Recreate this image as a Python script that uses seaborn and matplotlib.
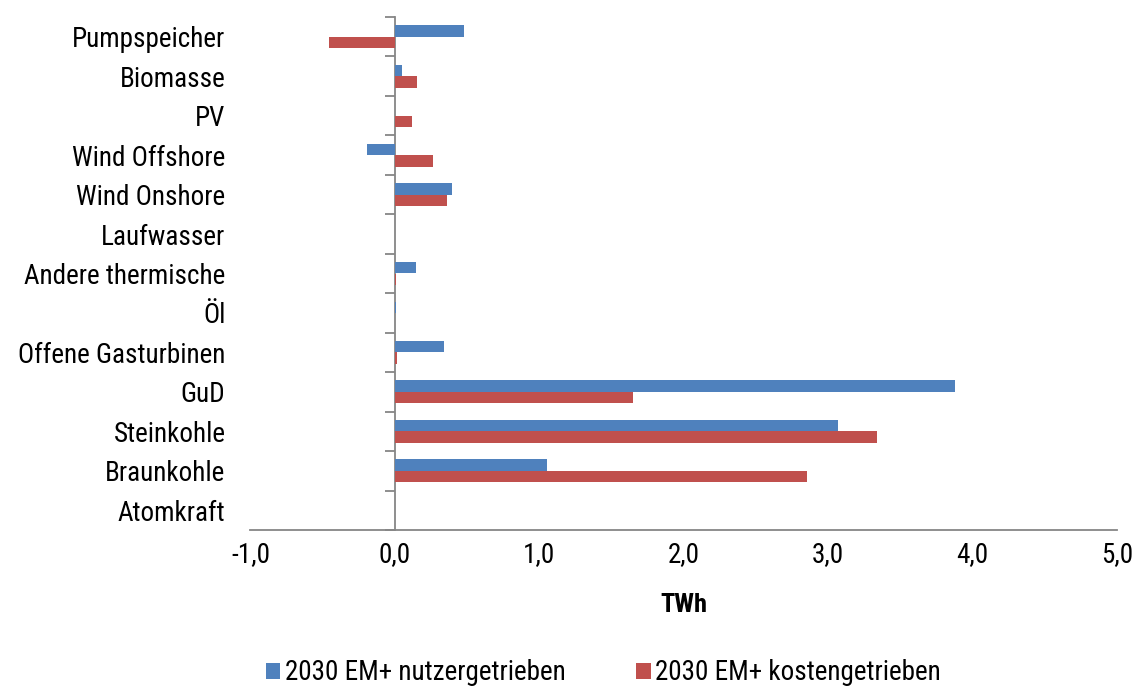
import matplotlib
matplotlib.use("Agg")
import matplotlib.pyplot as plt
import matplotlib.font_manager as fm
import numpy as np
import pandas as pd
import seaborn as sns

# Energy sources (top to bottom) and change in generation in TWh
categories = [
    "Pumpspeicher", "Biomasse", "PV", "Wind Offshore", "Wind Onshore",
    "Laufwasser", "Andere thermische", "Öl", "Offene Gasturbinen",
    "GuD", "Steinkohle", "Braunkohle", "Atomkraft",
]
nutzer = [0.48, 0.046, 0.0, -0.196, 0.395, 0.0, 0.145, 0.005, 0.34, 3.88, 3.07, 1.05, 0.0]
kosten = [-0.457, 0.15, 0.115, 0.263, 0.36, 0.0, 0.01, 0.0, 0.015, 1.65, 3.34, 2.85, 0.0]
series_names = ["2030 EM+ nutzergetrieben", "2030 EM+ kostengetrieben"]
x_ticks = [-1.0, 0.0, 1.0, 2.0, 3.0, 4.0, 5.0]

df = pd.DataFrame({
    "Kategorie": categories * 2,
    "TWh": nutzer + kosten,
    "Szenario": [series_names[0]] * len(categories) + [series_names[1]] * len(categories),
})

sns.set_theme(style="white")

# Prefer a narrow sans face if one is installed
def pick_narrow():
    narrow_names = ["Roboto Condensed", "Liberation Sans Narrow", "Open Sans Condensed",
                    "Noto Sans Condensed", "DejaVu Sans Condensed"]
    names = {f.name for f in fm.fontManager.ttflist}
    for n in narrow_names:
        if n in names:
            return n, "normal"
    for f in fm.fontManager.ttflist:
        if str(f.stretch) in ("condensed", "semi-condensed") and f.style == "normal" \
                and f.name in ("DejaVu Sans", "Noto Sans", "Open Sans", "Roboto"):
            return f.name, str(f.stretch)
    return "DejaVu Sans", "normal"

family, stretch = pick_narrow()
plt.rcParams["font.family"] = [family, "DejaVu Sans"]
plt.rcParams["font.stretch"] = stretch
plt.rcParams["text.color"] = "black"

BLUE = "#4F81BD"
RED = "#C0504D"
GREY = "#868686"
FS = 19.5

fig = plt.figure(figsize=(11.36, 6.9), dpi=100)
ax = fig.add_axes([250.5 / 1136, 1 - 530 / 690, (1117 - 250.5) / 1136, (530 - 17) / 690])

sns.barplot(data=df, y="Kategorie", x="TWh", hue="Szenario", orient="h",
            palette=[BLUE, RED], width=0.58, ax=ax, order=categories,
            hue_order=series_names, saturation=1.0, linewidth=0)

ax.set_xlim(-1.0, 5.0)
ax.set_ylim(len(categories) - 0.5, -0.5)
ax.set_xticks(x_ticks)
ax.set_xticklabels([f"{v:.1f}".replace(".", ",") for v in x_ticks], fontsize=FS, color="black")
ax.set_yticks(range(len(categories)))
ax.set_yticklabels(categories, fontsize=FS, color="black")
ax.tick_params(axis="x", direction="out", length=7, width=1.3, color=GREY, pad=1)
ax.tick_params(axis="y", length=0, pad=18)
ax.set_ylabel("")
ax.set_xlabel("TWh", fontsize=FS - 0.5, fontweight="bold", labelpad=18, color="black")

for side in ("left", "right", "top"):
    ax.spines[side].set_visible(False)
ax.spines["bottom"].set_color(GREY)
ax.spines["bottom"].set_linewidth(1.3)

# Category axis crossing at zero with tick marks between categories
zero_frac = (0.0 - x_ticks[0]) / (x_ticks[-1] - x_ticks[0])
sec = ax.secondary_yaxis(zero_frac)
sec.set_yticks(np.arange(-0.5, len(categories) + 0.5, 1.0))
sec.set_yticklabels([])
sec.tick_params(direction="out", length=7, width=1.3, color=GREY)
sec.spines["left"].set_color(GREY)
sec.spines["left"].set_linewidth(1.3)

handles, labels = ax.get_legend_handles_labels()
ax.legend(handles, labels, loc="center", bbox_to_anchor=((603 - 250.5) / 866.5, -143 / 513),
          ncol=2, frameon=False, fontsize=FS, handlelength=0.55,
          handleheight=0.55, handletextpad=0.15, columnspacing=2.6)

fig.savefig("out.png", dpi=100)
